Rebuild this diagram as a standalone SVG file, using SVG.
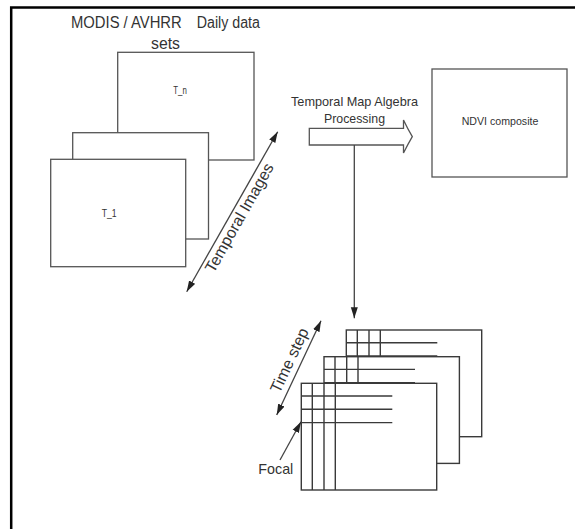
<svg xmlns="http://www.w3.org/2000/svg" width="575" height="529" viewBox="0 0 575 529">
<style>
text{font-family:"Liberation Sans",Arial,sans-serif;fill:#333}
.box{fill:#fff;stroke:#555;stroke-width:1.3}
.fr{fill:#fff;stroke:#3a3a3a;stroke-width:1.4}
.gl{stroke:#3a3a3a;stroke-width:1.4;fill:none}
.con{stroke:#444;stroke-width:1.3;fill:none}
</style>
<defs>
<marker id="ah" markerUnits="userSpaceOnUse" markerWidth="12" markerHeight="8" refX="11" refY="4" orient="auto-start-reverse" viewBox="0 0 12 8">
<path d="M0,0.5 L11,4 L0,7.5 Z" fill="#222"/>
</marker>
</defs>
<g id="frame">
<path d="M10,7.5 H575 M11.2,6.3 V529" stroke="#000" stroke-width="2.5" fill="none"/>
</g>
<g id="title">
<text font-size="16"><tspan x="71" y="28" textLength="110.7" lengthAdjust="spacingAndGlyphs">MODIS / AVHRR</tspan><tspan x="196.7" y="28" textLength="63.3" lengthAdjust="spacingAndGlyphs">Daily data</tspan></text>
<text x="165.5" y="49" font-size="16" text-anchor="middle" textLength="29" lengthAdjust="spacingAndGlyphs">sets</text>
</g>
<g id="image-tn">
<rect class="box" x="117.7" y="52.3" width="136.3" height="107.7"/>
<text x="173.3" y="94" font-size="10" textLength="13.5" lengthAdjust="spacingAndGlyphs">T_n</text>
</g>
<g id="image-mid">
<rect class="box" x="72.7" y="132.7" width="135.8" height="106.3"/>
</g>
<g id="image-t1">
<rect class="box" x="50.7" y="159.3" width="135" height="107.4"/>
<text x="101.7" y="217" font-size="10" textLength="15" lengthAdjust="spacingAndGlyphs">T_1</text>
</g>
<g id="ndvi">
<rect class="box" x="432" y="69" width="135" height="108"/>
<text x="500" y="125.3" font-size="10.5" text-anchor="middle" textLength="76.7" lengthAdjust="spacingAndGlyphs">NDVI composite</text>
</g>
<g id="tma-process">
<path d="M309.3,128.3 H403.5 V120 Q407.5,128.5 412.3,136.7 Q407.5,145 403.5,153 V145 H309.3 Z" fill="#fff" stroke="#555" stroke-width="1.3"/>
<text x="291" y="105.7" font-size="13.5" textLength="127" lengthAdjust="spacingAndGlyphs">Temporal Map Algebra</text>
<text x="324" y="123" font-size="13.5" textLength="61" lengthAdjust="spacingAndGlyphs">Processing</text>
</g>
<g id="stack-back">
<rect class="fr" x="346.3" y="330" width="135.4" height="106.7"/>
<path class="gl" d="M357.3,330 V436.7 M369,330 V436.7 M380.3,330 V436.7 M346.3,342.7 H437.3 M346.3,356 H437.3 M346.3,369.3 H437.3"/>
</g>
<g id="stack-mid">
<rect class="fr" x="324" y="356.7" width="135.4" height="106.7"/>
<path class="gl" d="M335,356.7 V463.4 M346.7,356.7 V463.4 M358,356.7 V463.4 M324,369.4 H415 M324,382.7 H415 M324,396 H415"/>
</g>
<g id="stack-front">
<rect class="fr" x="301.3" y="383.3" width="135.4" height="106.7"/>
<path class="gl" d="M312.3,383.3 V490 M324,383.3 V490 M335.3,383.3 V490 M301.3,396 H392.3 M301.3,409.3 H392.3 M301.3,422.6 H392.3"/>
</g>
<g id="labels">
<text transform="translate(244,220.5) rotate(-60.4)" font-size="16" text-anchor="middle">Temporal Images</text>
<text transform="translate(294.3,362.6) rotate(-64.8)" font-size="16" text-anchor="middle">Time step</text>
<text x="258.3" y="474.3" font-size="15" textLength="35" lengthAdjust="spacingAndGlyphs">Focal</text>
</g>
<g id="connectors">
<line class="con" x1="354.3" y1="145" x2="354.3" y2="318.3" marker-end="url(#ah)"/>
<line class="con" x1="186.7" y1="291.7" x2="277.7" y2="131.7" marker-start="url(#ah)" marker-end="url(#ah)"/>
<line class="con" x1="276.7" y1="415" x2="321" y2="320.7" marker-start="url(#ah)" marker-end="url(#ah)"/>
<line class="con" x1="280" y1="460" x2="301" y2="421.7" marker-end="url(#ah)"/>
</g>
</svg>
